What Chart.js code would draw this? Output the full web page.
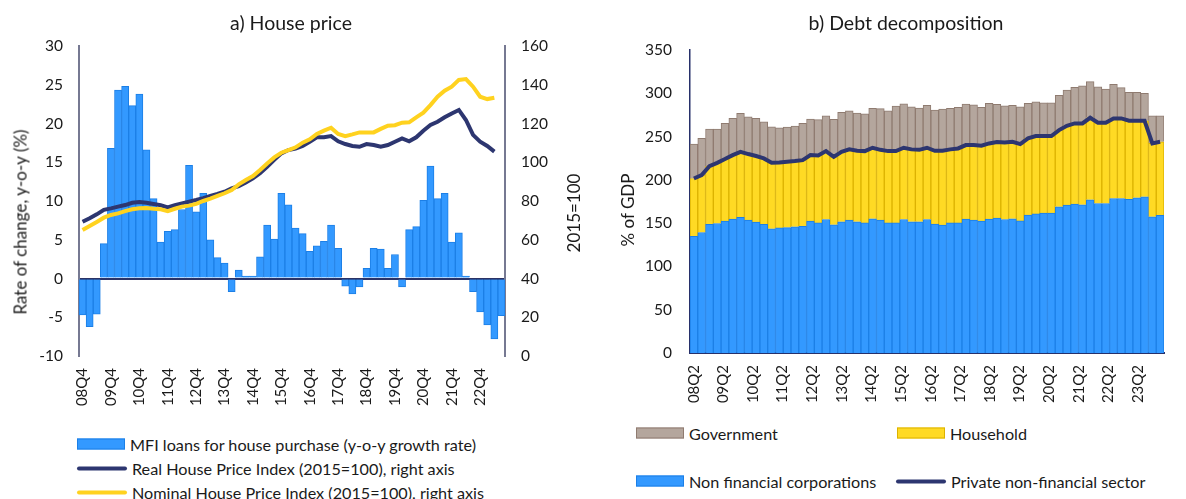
<!DOCTYPE html>
<html lang="en">
<head>
<meta charset="UTF-8">
<title>House price and debt decomposition</title>
<script src="https://cdn.jsdelivr.net/npm/chart.js@4.4.1/dist/chart.umd.min.js"></script>
<style>
  body { margin: 0; background: #fff; font-family: Lato, sans-serif; color: #1a1a1a; }
  #page { position: relative; width: 1186px; height: 499px; overflow: hidden; }
  canvas { position: absolute; top: 0; }
  .title { position: absolute; top: 22px; transform: translate(-50%, -50%); font-size: 19.5px; white-space: nowrap; }
  .vtitle { position: absolute; transform: translate(-50%, -50%) rotate(-90deg); font-size: 17px; white-space: nowrap; }
  .legend { position: absolute; transform: translateY(-50%); font-size: 16.2px; white-space: nowrap; display: flex; align-items: center; }
  .legend .box { width: 48px; height: 11px; margin-right: 5px; box-sizing: border-box; border: 1px solid; }
  .legend .line { width: 50px; height: 4px; margin-right: 5px; border-radius: 2px; }
</style>
</head>
<body>
<div id="page">
  <canvas id="housePrice" width="600" height="420" style="left:0"></canvas>
  <canvas id="debtDecomp" width="586" height="420" style="left:600px"></canvas>

  <div class="title" style="left:291px">a) House price</div>
  <div class="title" style="left:906px">b) Debt decomposition</div>
  <div class="vtitle" style="left:20px; top:222px">Rate of change, y-o-y (%)</div>
  <div class="vtitle" style="left:573px; top:213px">2015=100</div>
  <div class="vtitle" style="left:627px; top:210px">% of GDP</div>

  <div class="legend" style="left:77px; top:444px"><span class="box" style="background:#3399ff; border-color:#1c7fe6"></span>MFI loans for house purchase (y-o-y growth rate)</div>
  <div class="legend" style="left:77px; top:468px"><span class="line" style="background:#2d3670"></span>Real House Price Index (2015=100), right axis</div>
  <div class="legend" style="left:77px; top:492px"><span class="line" style="background:#ffd21f"></span>Nominal House Price Index (2015=100), right axis</div>

  <div class="legend" style="left:636px; top:433px"><span class="box" style="background:#b4a69d; border-color:#8f7b70"></span>Government</div>
  <div class="legend" style="left:897px; top:433px"><span class="box" style="background:#ffda24; border-color:#dcb200"></span>Household</div>
  <div class="legend" style="left:636px; top:481px"><span class="box" style="background:#3399ff; border-color:#1c7fe6"></span>Non financial corporations</div>
  <div class="legend" style="left:896px; top:481px"><span class="line" style="background:#2d3670"></span>Private non-financial sector</div>
</div>
<script>
// a) House price
const houseQuarters = [
  '08Q4',
  '09Q1','09Q2','09Q3','09Q4','10Q1','10Q2','10Q3','10Q4','11Q1','11Q2','11Q3','11Q4',
  '12Q1','12Q2','12Q3','12Q4','13Q1','13Q2','13Q3','13Q4','14Q1','14Q2','14Q3','14Q4',
  '15Q1','15Q2','15Q3','15Q4','16Q1','16Q2','16Q3','16Q4','17Q1','17Q2','17Q3','17Q4',
  '18Q1','18Q2','18Q3','18Q4','19Q1','19Q2','19Q3','19Q4','20Q1','20Q2','20Q3','20Q4',
  '21Q1','21Q2','21Q3','21Q4','22Q1','22Q2','22Q3','22Q4','23Q1','23Q2','23Q3'
];
const houseTicks = ['08Q4','09Q4','10Q4','11Q4','12Q4','13Q4','14Q4','15Q4','16Q4','17Q4','18Q4','19Q4','20Q4','21Q4','22Q4'];
const mfiLoans = [
  -4.7, -6.2, -4.6, 4.5, 16.8, 24.3, 24.8, 22.3, 23.8, 16.6,
  10.3, 4.7, 6.1, 6.3, 8.9, 14.6, 8.6, 11.0, 5.0, 2.7,
  2.0, -1.7, 1.1, 0.3, 0.3, 2.8, 6.9, 5.1, 11.0, 9.5,
  6.5, 5.8, 3.5, 4.2, 4.8, 6.9, 3.9, -1.0, -2.0, -1.1,
  1.3, 3.9, 3.8, 1.3, 3.1, -1.1, 6.3, 6.7, 10.1, 14.5,
  10.3, 11.0, 4.7, 5.9, 0.3, -1.7, -4.3, -6.0, -7.8, -4.8
];
const realHpi = [
  69.3, 71.1, 73.1, 75.4, 76.2, 77.1, 77.9, 79.1, 79.5, 79.1,
  78.5, 77.8, 76.7, 77.9, 78.8, 79.7, 80.5, 81.5, 82.6, 83.6,
  84.8, 86.5, 87.7, 89.6, 91.7, 94.3, 97.7, 101.2, 104.6, 106.3,
  107.0, 108.4, 110.6, 112.9, 112.9, 113.5, 110.8, 109.4, 108.4, 108.0,
  109.4, 108.9, 108.0, 108.9, 110.6, 112.3, 110.8, 112.9, 116.3, 119.2,
  120.9, 123.2, 125.2, 127.0, 121.8, 114.1, 110.6, 108.4, 105.5
];
const nominalHpi = [
  65.0, 67.1, 69.2, 71.4, 72.8, 73.6, 74.8, 75.7, 76.2, 76.4,
  76.0, 75.7, 74.8, 76.0, 77.1, 77.6, 78.5, 80.0, 81.2, 82.6,
  84.0, 85.7, 88.6, 90.8, 92.9, 96.0, 99.4, 102.5, 104.9, 106.3,
  107.7, 110.1, 111.8, 114.6, 116.3, 117.8, 114.6, 113.5, 114.4, 115.4,
  115.4, 115.4, 117.2, 118.9, 119.1, 120.4, 120.6, 123.2, 125.6, 129.5,
  133.8, 136.9, 139.0, 142.5, 142.9, 139.0, 133.8, 132.6, 133.3
];

// b) Debt decomposition, % of GDP
const debtQuarters = [
  '08Q2','08Q3','08Q4',
  '09Q1','09Q2','09Q3','09Q4','10Q1','10Q2','10Q3','10Q4','11Q1','11Q2','11Q3','11Q4',
  '12Q1','12Q2','12Q3','12Q4','13Q1','13Q2','13Q3','13Q4','14Q1','14Q2','14Q3','14Q4',
  '15Q1','15Q2','15Q3','15Q4','16Q1','16Q2','16Q3','16Q4','17Q1','17Q2','17Q3','17Q4',
  '18Q1','18Q2','18Q3','18Q4','19Q1','19Q2','19Q3','19Q4','20Q1','20Q2','20Q3','20Q4',
  '21Q1','21Q2','21Q3','21Q4','22Q1','22Q2','22Q3','22Q4','23Q1','23Q2'
];
const debtTicks = ['08Q2','09Q2','10Q2','11Q2','12Q2','13Q2','14Q2','15Q2','16Q2','17Q2','18Q2','19Q2','20Q2','21Q2','22Q2','23Q2'];
const nfcDebt = [
  134.9, 139.2, 148.5, 149.6, 152.3, 154.6, 156.6, 153.4, 151.1, 148.5,
  143.4, 144.5, 144.9, 145.7, 146.4, 152.3, 150.3, 154.2, 148.1, 151.5,
  153.4, 151.5, 150.3, 155.0, 153.4, 150.3, 150.3, 154.2, 151.5, 151.5,
  154.2, 148.8, 147.7, 150.3, 150.3, 154.6, 153.4, 152.3, 154.6, 155.8,
  154.2, 155.0, 152.6, 159.2, 160.7, 161.5, 161.5, 168.8, 170.8, 171.9,
  171.2, 176.9, 172.7, 172.7, 178.5, 178.5, 177.4, 179.2, 180.4, 157.3,
  158.9
];
const householdDebt = [
  66.7, 66.3, 67.4, 70.1, 71.7, 74.0, 75.8, 76.4, 76.4, 76.3,
  76.3, 75.6, 76.0, 76.0, 76.4, 76.3, 77.9, 79.0, 78.5, 80.9,
  81.8, 82.1, 82.9, 82.1, 81.3, 82.9, 82.9, 82.9, 83.7, 83.2,
  82.9, 84.8, 85.9, 84.9, 86.0, 85.6, 86.8, 87.1, 87.5, 87.8,
  89.0, 89.0, 88.7, 88.7, 89.9, 89.1, 89.1, 88.7, 91.7, 93.3,
  94.0, 94.8, 93.3, 93.3, 92.5, 92.5, 90.9, 89.1, 87.9, 84.8,
  85.1
];
const governmentDebt = [
  39.7, 42.4, 42.8, 39.0, 41.2, 42.4, 44.4, 43.1, 43.5, 42.3,
  41.6, 40.1, 40.1, 40.4, 42.4, 41.6, 41.3, 40.9, 43.2, 45.5,
  44.6, 43.6, 43.2, 45.5, 47.5, 46.6, 52.1, 50.8, 49.1, 48.3,
  49.0, 47.0, 48.2, 47.4, 47.4, 47.4, 46.6, 44.3, 46.3, 43.6,
  42.4, 42.1, 43.0, 40.5, 39.6, 38.5, 38.5, 40.1, 41.3, 41.7,
  43.5, 41.7, 41.6, 38.9, 39.3, 35.5, 32.8, 32.8, 31.6, 32.0,
  30.1
];
const privateDebt = [
  201.6, 205.5, 215.9, 219.7, 224.0, 228.6, 232.4, 229.8, 227.5, 224.8,
  219.7, 220.1, 220.9, 221.7, 222.8, 228.6, 228.2, 233.2, 226.6, 232.4,
  235.2, 233.6, 233.2, 237.1, 234.7, 233.2, 233.2, 237.1, 235.2, 234.7,
  237.1, 233.6, 233.6, 235.2, 236.3, 240.2, 240.2, 239.4, 242.1, 243.6,
  243.2, 244.0, 241.3, 247.9, 250.6, 250.6, 250.6, 257.5, 262.5, 265.2,
  265.2, 271.7, 266.0, 266.0, 271.0, 271.0, 268.3, 268.3, 268.3, 242.1,
  244.0
];

Chart.defaults.font.family = 'Lato, sans-serif';
Chart.defaults.font.size = 15.5;
Chart.defaults.color = '#1a1a1a';

const NAVY = '#2d3670';
const YELLOW = '#ffd21f';
const BLUE = '#3399ff';
const BLUE_EDGE = '#1c7fe6';

new Chart(document.getElementById('housePrice'), {
  data: {
    labels: houseQuarters,
    datasets: [
      { type: 'line', label: 'Nominal House Price Index (2015=100), right axis', data: nominalHpi,
        yAxisID: 'y1', borderColor: YELLOW, borderWidth: 4, pointRadius: 0, order: 1 },
      { type: 'line', label: 'Real House Price Index (2015=100), right axis', data: realHpi,
        yAxisID: 'y1', borderColor: NAVY, borderWidth: 4, pointRadius: 0, order: 2 },
      { type: 'bar', label: 'MFI loans for house purchase (y-o-y growth rate)', data: mfiLoans,
        yAxisID: 'y', backgroundColor: BLUE, borderColor: BLUE_EDGE, borderWidth: 1,
        barPercentage: 1, categoryPercentage: 1, order: 3 }
    ]
  },
  options: {
    responsive: false,
    animation: false,
    layout: { padding: { top: 46, left: 0, right: 0, bottom: 0 } },
    plugins: { legend: { display: false }, tooltip: { enabled: false } },
    scales: {
      x: {
        ticks: {
          autoSkip: false, minRotation: 90, maxRotation: 90, padding: 12, font: { size: 15 },
          callback: (v, i) => houseTicks.includes(houseQuarters[i]) ? houseQuarters[i] : ''
        },
        grid: { display: false, drawTicks: false },
        border: { display: false },
        afterFit: s => { s.height = 64; }
      },
      y: {
        position: 'left', min: -10, max: 30, z: 1,
        ticks: { stepSize: 5, padding: 16 },
        grid: { drawTicks: false, lineWidth: 2,
                color: c => c.tick && c.tick.value === 0 ? '#2b3366' : 'rgba(0,0,0,0)' },
        border: { color: '#767992', width: 2 },
        afterFit: s => { s.width = 79; }
      },
      y1: {
        position: 'right', min: 0, max: 160,
        ticks: { stepSize: 20, padding: 16 },
        grid: { display: false, drawTicks: false },
        border: { color: '#767992', width: 2 },
        afterFit: s => { s.width = 95; }
      }
    }
  }
});

new Chart(document.getElementById('debtDecomp'), {
  data: {
    labels: debtQuarters,
    datasets: [
      { type: 'line', label: 'Private non-financial sector', data: privateDebt, stack: 'private',
        borderColor: NAVY, borderWidth: 4, pointRadius: 0, order: 0 },
      { type: 'bar', label: 'Non financial corporations', data: nfcDebt, stack: 'debt',
        backgroundColor: BLUE, borderColor: BLUE_EDGE, borderWidth: 1, order: 1 },
      { type: 'bar', label: 'Household', data: householdDebt, stack: 'debt',
        backgroundColor: '#ffda24', borderColor: '#dcb200', borderWidth: 1, order: 1 },
      { type: 'bar', label: 'Government', data: governmentDebt, stack: 'debt',
        backgroundColor: '#b4a69d', borderColor: '#8f7b70', borderWidth: 1, order: 1 }
    ]
  },
  options: {
    responsive: false,
    animation: false,
    layout: { padding: { top: 50, left: 0, right: 22, bottom: 0 } },
    datasets: { bar: { barPercentage: 1, categoryPercentage: 1 } },
    plugins: { legend: { display: false }, tooltip: { enabled: false } },
    scales: {
      x: { display: false, stacked: true },
      // yearly labels run on their own scale
      xq: {
        type: 'linear', position: 'bottom', min: -0.5, max: 63.5,
        afterBuildTicks: s => { s.ticks = debtTicks.map((t, k) => ({ value: 4 * k })); },
        ticks: { autoSkip: false, minRotation: 90, maxRotation: 90, padding: 12, font: { size: 15 },
                 callback: v => debtTicks[v / 4] },
        grid: { display: false, drawTicks: false },
        border: { color: '#27306a', width: 2 },
        afterFit: s => { s.height = 67; }
      },
      y: {
        stacked: true, min: 0, max: 350,
        ticks: { stepSize: 50, padding: 18 },
        grid: { display: false, drawTicks: false },
        border: { color: '#27306a', width: 1.5 },
        afterFit: s => { s.width = 90; }
      }
    }
  }
});
</script>
</body>
</html>
